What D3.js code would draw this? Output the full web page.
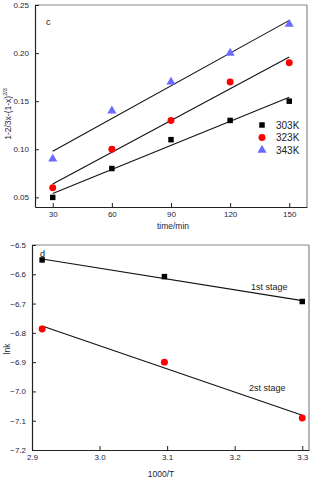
<!DOCTYPE html>
<html><head><meta charset="utf-8">
<script src="https://cdn.jsdelivr.net/npm/d3@7"></script>
<style>body{margin:0;background:#fff}svg{display:block}text{font-family:"Liberation Sans",Arial,sans-serif}</style>
</head><body>
<svg id="c" width="315" height="480"></svg>
<script>
// Panel c data
const timeMin = [30, 60, 90, 120, 150];
const s303 = [0.05, 0.08, 0.11, 0.13, 0.15];
const s323 = [0.06, 0.10, 0.13, 0.17, 0.19];
const s343 = [0.09, 0.14, 0.17, 0.20, 0.23];
const seriesNames = ["303K", "323K", "343K"];
const xTicksC = [30, 60, 90, 120, 150];
const yTicksC = [0.05, 0.10, 0.15, 0.20, 0.25];
// Panel d data
const invT = [2.915, 3.096, 3.300];
const stage1 = [-6.551, -6.608, -6.693];
const stage2 = [-6.787, -6.900, -7.091];
const stageNames = ["1st  stage", "2st  stage"];
const xTicksD = [2.9, 3.0, 3.1, 3.2, 3.3];
const yTicksD = [-6.5, -6.6, -6.7, -6.8, -6.9, -7.0, -7.1, -7.2];

const svg = d3.select("#c");
const tickCol = "#1c1c3c";

function fit(xs, ys) {
  const mx = d3.mean(xs), my = d3.mean(ys);
  let sxy = 0, sxx = 0;
  xs.forEach((x, i) => { sxy += (x - mx) * (ys[i] - my); sxx += (x - mx) ** 2; });
  const b = sxy / sxx, a = my - b * mx;
  return x => a + b * x;
}

function frame(g, x, y, xt, yt, xfmt, yfmt) {
  const [x0, x1] = x.range(), [y0, y1] = y.range();
  g.append("line").attr("x1", x0).attr("x2", x1).attr("y1", y1).attr("y2", y1).attr("stroke", "#888").attr("stroke-width", 1.2);
  g.append("line").attr("x1", x1).attr("x2", x1).attr("y1", y1).attr("y2", y0).attr("stroke", "#888").attr("stroke-width", 1.2);
  const xa = g.append("g").attr("transform", `translate(0,${y0})`)
    .call(d3.axisBottom(x).tickValues(xt).tickSizeInner(-4).tickSizeOuter(0).tickPadding(4).tickFormat(xfmt));
  const ya = g.append("g").attr("transform", `translate(${x0},0)`)
    .call(d3.axisLeft(y).tickValues(yt).tickSizeInner(-4).tickSizeOuter(0).tickPadding(6).tickFormat(yfmt));
  [xa, ya].forEach(a => {
    a.select(".domain").attr("stroke", "#222").attr("stroke-width", 1.2);
    a.selectAll(".tick line").attr("stroke", "#222");
    a.selectAll("text").attr("fill", tickCol).style("font-size", "8px").style("font-family", '"Liberation Sans",Arial,sans-serif');
  });
}

// ---------- Panel c ----------
const xc = d3.scaleLinear().domain([21, 159]).range([35, 307]);
const yc = d3.scaleLinear().domain([0.04, 0.25]).range([207, 5]);
const gc = svg.append("g");
frame(gc, xc, yc, xTicksC, yTicksC, d3.format("d"), d3.format(".2f"));

const colors = ["#000000", "#ff0000", "#6b6bff"];
const allC = [s303, s323, s343];
allC.forEach((s, i) => {
  const f = fit(timeMin, s);
  gc.append("line").attr("x1", xc(30)).attr("y1", yc(f(30))).attr("x2", xc(150)).attr("y2", yc(f(150)))
    .attr("stroke", "#111").attr("stroke-width", 1.1);
});
const symTypes = [d3.symbolSquare, d3.symbolCircle, d3.symbolTriangle];
const symSizes = [30, 38, 36];
allC.forEach((s, i) => {
  gc.selectAll(null).data(s).enter().append("path")
    .attr("d", d3.symbol().type(symTypes[i]).size(symSizes[i]))
    .attr("transform", (d, j) => `translate(${xc(timeMin[j])},${yc(d)})`)
    .attr("fill", colors[i]);
});
// legend
seriesNames.forEach((n, i) => {
  const ly = 125 + i * 12.5;
  gc.append("path").attr("d", d3.symbol().type(symTypes[i]).size(symSizes[i]))
    .attr("transform", `translate(262,${ly})`).attr("fill", colors[i]);
  gc.append("text").attr("x", 276).attr("y", ly + 3.5).text(n).attr("fill", "#222").style("font-size", "10px");
});
gc.append("text").attr("x", 46).attr("y", 25).text("c").attr("fill", "#111").style("font-size", "9px");
gc.append("text").attr("x", 173).attr("y", 229).attr("text-anchor", "middle").text("time/min").attr("fill", tickCol).style("font-size", "8.5px");
const yl = gc.append("text").attr("transform", "translate(11,114) rotate(-90)").attr("text-anchor", "middle")
  .attr("fill", tickCol).style("font-size", "8.5px");
yl.append("tspan").text("1-2/3x-(1-x)");
yl.append("tspan").attr("dy", -4).style("font-size", "5.5px").text("2/3");

// ---------- Panel d ----------
const xd = d3.scaleLinear().domain([2.9, 3.31]).range([32, 309]);
const yd = d3.scaleLinear().domain([-7.2, -6.5]).range([450, 245]);
const gd = svg.append("g");
frame(gd, xd, yd, xTicksD, yTicksD, d3.format(".1f"), d3.format(".1f"));
[stage1, stage2].forEach((s, i) => {
  const f = fit(invT, s);
  gd.append("line").attr("x1", xd(invT[0])).attr("y1", yd(f(invT[0]))).attr("x2", xd(invT[2])).attr("y2", yd(f(invT[2])))
    .attr("stroke", "#111").attr("stroke-width", 1.1);
});
gd.selectAll(null).data(stage1).enter().append("path")
  .attr("d", d3.symbol().type(d3.symbolSquare).size(30))
  .attr("transform", (d, j) => `translate(${xd(invT[j])},${yd(d)})`).attr("fill", "#000");
gd.selectAll(null).data(stage2).enter().append("path")
  .attr("d", d3.symbol().type(d3.symbolCircle).size(38))
  .attr("transform", (d, j) => `translate(${xd(invT[j])},${yd(d)})`).attr("fill", "#ff0000");
gd.append("text").attr("x", 40).attr("y", 257).text("d").attr("fill", "#111").style("font-size", "9px");
gd.append("text").attr("x", 251).attr("y", 290).text(stageNames[0]).attr("fill", "#222").style("font-size", "9px");
gd.append("text").attr("x", 249).attr("y", 391).text(stageNames[1]).attr("fill", "#222").style("font-size", "9px");
gd.append("text").attr("x", 161).attr("y", 477).attr("text-anchor", "middle").text("1000/T").attr("fill", tickCol).style("font-size", "8.5px");
gd.append("text").attr("transform", "translate(10,349) rotate(-90)").attr("text-anchor", "middle").text("lnk")
  .attr("fill", tickCol).style("font-size", "8.5px");
</script>
</body></html>
